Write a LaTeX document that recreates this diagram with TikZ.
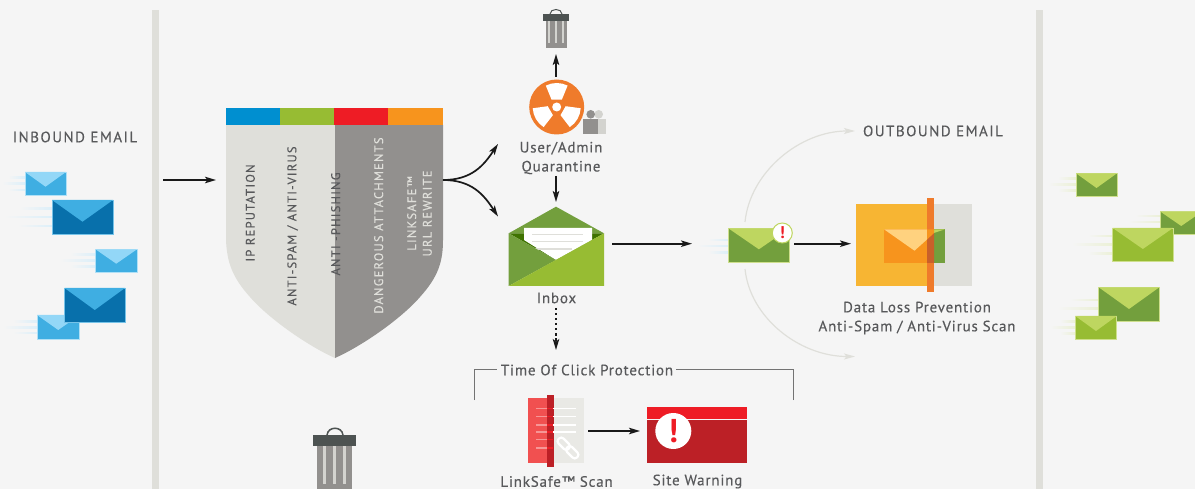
\documentclass[tikz,border=0pt]{standalone}
\usepackage{fontspec}
\setmainfont{PT Sans}
\newfontfamily\capsfont[LetterSpace=10,FakeBold=0.25]{PT Sans}
\newfontfamily\labfont[LetterSpace=5.5,FakeBold=0.25]{PT Sans}
\usetikzlibrary{arrows.meta}
\definecolor{bg}{HTML}{F5F5F5}
\definecolor{bar}{HTML}{DFDFDA}
\definecolor{txt}{HTML}{58595B}
\definecolor{shieldD}{HTML}{92908E}
\definecolor{lid}{HTML}{4D5352}
\definecolor{blueS}{HTML}{008FD0}
\definecolor{blueL}{HTML}{3FAEE2}
\definecolor{blueX}{HTML}{93D7F7}
\definecolor{blueD}{HTML}{0870AB}
\definecolor{greenD}{HTML}{739F3D}
\definecolor{greenL}{HTML}{97BC33}
\definecolor{greenX}{HTML}{BED660}
\definecolor{greenK}{HTML}{3F7300}
\definecolor{redA}{HTML}{EE1C25}
\definecolor{redD}{HTML}{BC2026}
\definecolor{redL}{HTML}{F15050}
\definecolor{orgA}{HTML}{F7941D}
\definecolor{orgB}{HTML}{EF7B2B}
\definecolor{orgD}{HTML}{C9602A}
\definecolor{orgX}{HTML}{FFD27F}
\definecolor{yel}{HTML}{F7B533}
\definecolor{speedB}{HTML}{DCEFF9}
\definecolor{speedG}{HTML}{EBF0D6}
\tikzset{
  flow/.style={draw=black!90,line width=1.7pt,-{Stealth[length=11pt,width=6.5pt,inset=2.5pt]}},
  dotflow/.style={flow,line width=1.4pt,dash pattern=on 2.5pt off 2.5pt},
  softflow/.style={draw=bar,line width=1.2pt,-{Stealth[length=11pt,width=6pt,inset=2.5pt]}},
  bracket/.style={draw=black!55,line width=0.9pt},
  lab/.style={text=txt,font=\labfont\fontsize{15}{19}\selectfont,align=center,inner sep=0pt},
  head/.style={text=txt,font=\capsfont\fontsize{15}{18}\selectfont,inner sep=0pt},
  shieldlab/.style={rotate=90,font=\capsfont\fontsize{12.5}{15.6}\selectfont,inner sep=0pt,align=center},
}
% x1 y1 x2 y2 tipy body flap
\newcommand\envel[7]{%
  \fill[#6,draw=#7!70!bg,line width=0.5pt] (#1,#2) rectangle (#3,#4);
  \fill[#7] (#1,#2) -- (#3,#2) -- ({(#1+#3)/2},#5) -- cycle;
}
% xend y xstart colour
\newcommand\speedline[4]{\shade[left color=bg,right color=#4] (#3,#2-0.8) rectangle (#1,#2+0.8);}
% lid x1 x2, y1 y2, can x1 x2, y2, stripe spacing, stripe half width
\newcommand\trash[9]{%
  \fill[shieldD] (#5,#4) rectangle (#6,#7);
  \foreach \k in {-1,0,1}{\fill[bar!85!shieldD] ({(#1+#2)/2+\k*#8-#9},#4) rectangle ({(#1+#2)/2+\k*#8+#9},#7-5);}
  \fill[lid] (#1,#3) rectangle (#2,#4);
}
\newcommand\blade[1]{\fill[white] (556.7,107) ++(#1-27:24) arc[start angle=#1-27,end angle=#1+27,radius=24] -- ([shift={(556.7,107)}]#1+35:9) -- ([shift={(556.7,107)}]#1-35:9) -- cycle;}
\begin{document}
\begin{tikzpicture}[x=1pt,y=-1pt]
\useasboundingbox (0,0) rectangle (1195,489);
\clip (0,0) rectangle (1195,489);
\fill[bg] (0,0) rectangle (1195,489);
% side rails
\fill[bar] (152,10) rectangle (159,489);
\fill[bar] (1036,10) rectangle (1043,489);

% headings
\node[head] (inboundhead) at (75,137) {INBOUND EMAIL};
\node[head] (outboundhead) at (933,131) {OUTBOUND EMAIL};

% inbound envelopes
\speedline{25}{177.7}{8}{speedB}\speedline{25}{183.7}{2}{speedB}\speedline{25}{190}{8}{speedB}
\envel{25}{172}{66}{195}{186.7}{blueL}{blueX}
\speedline{52}{208.7}{20}{speedB}\speedline{52}{217}{5}{speedB}\speedline{52}{226}{18}{speedB}
\envel{52}{200}{113}{234}{221.7}{blueD}{blueL}
\speedline{95.5}{254.7}{70}{speedB}\speedline{95.5}{260.7}{60}{speedB}\speedline{95.5}{266.7}{70}{speedB}
\envel{95.5}{249.3}{137}{272}{263.7}{blueL}{blueX}
\speedline{37}{321.3}{13}{speedB}\speedline{37}{327.3}{3}{speedB}\speedline{37}{333}{13}{speedB}
\envel{37}{315}{79.5}{339}{330}{blueL}{blueX}
\envel{64.5}{288}{125}{322}{310}{blueD}{blueL}

% connector ends
\coordinate (inboundout) at (163,180);
\coordinate (shieldin) at (216,180);
\coordinate (shieldout) at (443,180);
\coordinate (quarin) at (498,144);
\coordinate (inboxin) at (498,216.5);
\coordinate (quarup) at (556,77);
\coordinate (trashin) at (556,54);
\coordinate (quardown) at (556,176);
\coordinate (inboxtop) at (556,202);
\coordinate (inboxout) at (612,243.7);
\coordinate (midin) at (692,243.7);
\coordinate (midout) at (794,243.7);
\coordinate (dlpin) at (851,243.7);
\coordinate (midup) at (745,222);
\coordinate (outup) at (855,131);
\coordinate (middown) at (745,269);
\coordinate (outdown) at (855,356.5);
\coordinate (inboxdown) at (556,308);
\coordinate (tocin) at (556,350);
\coordinate (scanout) at (588,431);
\coordinate (warnin) at (640,431);
\coordinate (brL) at (474.3,400);
\coordinate (brLt) at (474.3,369.5);
\coordinate (brLe) at (496.7,369.5);
\coordinate (brR) at (793,400);
\coordinate (brRt) at (793,369.5);
\coordinate (brRe) at (676,369.5);

\draw[flow] (inboundout) -- (shieldin);

% shield
\fill[bar] (226,125) -- (335,125) -- (335,358) .. controls (310,347) and (270,320) .. (250,297) .. controls (232,277) and (227,262) .. (226,240) -- cycle;
\fill[shieldD] (443,125) -- (335,125) -- (335,358) .. controls (360,347) and (400,320) .. (420,297) .. controls (438,277) and (443,262) .. (443,240) -- cycle;
\fill[blueS] (226,108) rectangle (280,125);
\fill[greenL] (280,108) rectangle (334,125);
\fill[redA] (334,108) rectangle (388,125);
\fill[orgA] (388,108) rectangle (443,125);
\node[shieldlab,text=txt] (ipl) at (250.3,213) {IP REPUTATION};
\node[shieldlab,text=txt] (spaml) at (292.7,226) {ANTI-SPAM / ANTI-VIRUS};
\node[shieldlab,text=txt] (phishl) at (335.7,224) {ANTI -PHISHING};
\node[shieldlab,text=bar] (dangl) at (378.7,225.5) {DANGEROUS ATTACHMENTS};
\node[shieldlab,text=bar] (linkl) at (419.5,213.5) {LINKSAFE™\\URL REWRITE};

\draw[flow] (shieldout) .. controls (472,180) and (484,165) .. (quarin);
\draw[flow] (shieldout) .. controls (472,180) and (484,195) .. (inboxin);

% top trash
\trash{543}{569}{14}{21}{546}{567}{48}{7}{0.7}
\draw[lid,line width=1pt] (550,14) .. controls (550,8) and (562,8) .. (562,14);
\draw[flow] (quarup) -- (trashin);

% quarantine
\fill[orgB] (556.7,107) circle[radius=27.5];
\blade{-90}\blade{30}\blade{150}
\fill[white] (556.7,107) circle[radius=4.5];
\fill[bar!85!shieldD] (598.7,114.3) circle[radius=4.3];
\fill[bar!85!shieldD] (591,119) rectangle (606,134);
\fill[shieldD] (590.7,114.3) circle[radius=4.3];
\fill[shieldD] (583.3,119) rectangle (598.3,134);
\node[lab] (quarl) at (561,158) {User/Admin\\Quarantine};
\draw[flow] (quardown) -- (inboxtop);

% inbox
\fill[greenD] (508.7,233.3) -- (556,206.7) -- (604,233.3) -- cycle;
\fill[greenK] (508.7,233.3) -- (604,233.3) -- (556,260) -- cycle;
\fill[white] (524,228) -- (592,228) -- (592,240) -- (556,260) -- (524,240) -- cycle;
\fill[bar] (532,234) rectangle (583,235.5);
\fill[bar] (532,241) rectangle (583,242.5);
\fill[bar] (532,248.5) rectangle (572,250);
\fill[greenD] (508.7,233.3) -- (556,260) -- (508.7,286) -- cycle;
\fill[greenL] (604,233.3) -- (604,286) -- (508.7,286) -- cycle;
\node[lab] (inboxl) at (556.5,298) {Inbox};
\draw[dotflow] (inboxdown) -- (tocin);
\draw[flow] (inboxout) -- (midin);

% middle envelope
\speedline{728.3}{240}{708}{speedB}\speedline{728.3}{246}{697}{speedB}\speedline{728.3}{252.7}{708}{speedB}
\envel{728.3}{228.3}{789.5}{262}{249.3}{greenD}{greenX}
\node[circle,fill=white,draw=greenX,line width=1pt,minimum size=20pt,inner sep=0pt,text=redA,font=\bfseries\fontsize{17}{17}\selectfont] (alert) at (782.3,233) {!};
\draw[flow] (midout) -- (dlpin);
\draw[softflow] (midup) .. controls (750,172) and (800,131) .. (outup);
\draw[softflow] (middown) .. controls (750,318) and (800,356.5) .. (outdown);

% DLP icon
\fill[yel] (856,204) rectangle (927,285.7);
\fill[bar] (927,204) rectangle (972,285.7);
\fill[orgB] (927,198) rectangle (934,291.7);
\fill[orgA] (884,229.3) rectangle (927,263);
\fill[orgX] (884,229.3) -- (927,229.3) -- (927,239.5) -- (914.5,250.7) -- cycle;
\fill[greenD] (934,229.3) rectangle (945,263);
\fill[greenX] (934,233) -- (945,229.3) -- (934,229.3) -- cycle;
\fill[orgD] (927,239.5) -- (934,233) -- (934,263) -- (927,263) -- cycle;
\fill[orgA] (927,229.3) -- (934,229.3) -- (934,233) -- (927,239.5) -- cycle;
\node[lab] (dlpl) at (917,318) {Data Loss Prevention\\Anti-Spam / Anti-Virus Scan};

% time of click
\node[lab] (tocl) at (587,370) {Time Of Click Protection};
\draw[bracket] (brL) -- (brLt) -- (brLe);
\draw[bracket] (brR) -- (brRt) -- (brRe);

% LinkSafe scan
\fill[redL] (528,398) rectangle (547,463);
\fill[bar!70!white] (554,398) rectangle (584,463);
\fill[redD] (547,395) rectangle (554,467);
\foreach \yy in {408.7,416.7,425,432,439.5,448}{
  \fill[white,opacity=.4] (536,\yy-.7) rectangle (547,\yy+.7);
  \fill[redA] (547,\yy-.7) rectangle (553,\yy+.7);
}
\foreach \yy in {408.7,416.7,425,432}{\fill[white] (553,\yy-.7) rectangle (576,\yy+.7);}
\begin{scope}[shift={(568,448)},rotate=-45]
\draw[white,line width=2.2pt,rounded corners=3pt] (-13,-3.5) rectangle (1,3.5);
\draw[white,line width=2.2pt,rounded corners=3pt] (-1,-3.5) rectangle (13,3.5);
\end{scope}
\draw[flow] (scanout) -- (warnin);
\node[lab] (scanl) at (556.5,481.5) {LinkSafe™ Scan};

% site warning
\fill[redA] (647,407) rectangle (747,418.5);
\fill[redD] (647,420) rectangle (747,463);
\fill[white] (673.3,431) circle[radius=18];
\node[text=redA,inner sep=0pt,font=\bfseries\fontsize{33}{33}\selectfont] (warnmark) at (673.3,431) {!};
\node[lab] (warnl) at (697.5,481.5) {Site Warning};

% bottom trash
\trash{313}{356}{435}{446}{317}{352}{489}{10}{1.5}
\draw[lid,line width=1.5pt] (327,435) .. controls (328,426) and (342,426) .. (343,435);

% outbound envelopes
\speedline{1076}{178.7}{1058}{speedG}\speedline{1076}{184.7}{1048}{speedG}\speedline{1076}{190.7}{1058}{speedG}
\envel{1076}{173.3}{1117}{196}{188}{greenD}{greenX}
\speedline{1160.5}{216}{1135}{speedG}\speedline{1160.5}{222}{1128}{speedG}
\envel{1160.5}{211.7}{1202}{234.7}{226}{greenD}{greenX}
\speedline{1112.7}{236}{1088}{speedG}\speedline{1112.7}{244.7}{1072}{speedG}\speedline{1112.7}{253.3}{1088}{speedG}
\envel{1112.7}{228}{1173}{261.3}{249}{greenL}{greenX}
\speedline{1098.7}{300}{1070}{speedG}\speedline{1098.7}{308.7}{1058}{speedG}
\envel{1098.7}{287.3}{1159.3}{321}{309}{greenD}{greenX}
\speedline{1075.3}{321.7}{1060}{speedG}\speedline{1075.3}{327.3}{1050}{speedG}\speedline{1075.3}{333.3}{1060}{speedG}
\envel{1075.3}{316}{1116.7}{339}{331}{greenL}{greenX}
\end{tikzpicture}
\end{document}
